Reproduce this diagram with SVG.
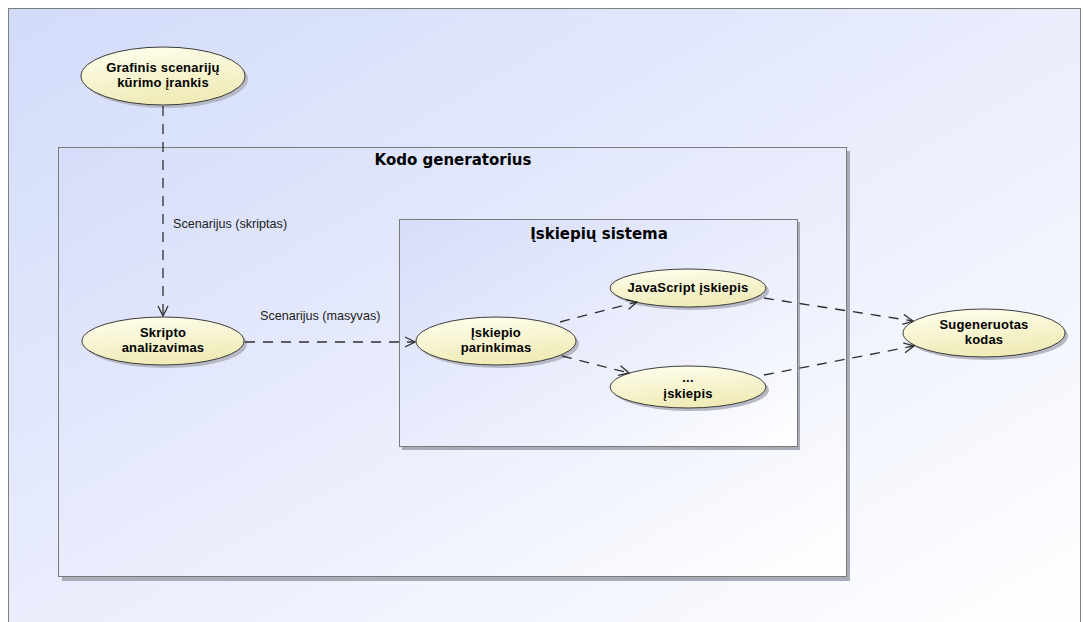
<svg xmlns="http://www.w3.org/2000/svg" width="1083" height="622" viewBox="0 0 1083 622">
  <defs>
    <linearGradient id="bgGrad" x1="0" y1="0" x2="1" y2="1">
      <stop offset="0" stop-color="#d2dbfa"/>
      <stop offset="0.6" stop-color="#eef1fd"/>
      <stop offset="1" stop-color="#ffffff"/>
    </linearGradient>
    <linearGradient id="boxGrad" x1="0" y1="0" x2="1" y2="1">
      <stop offset="0" stop-color="#d6ddfa"/>
      <stop offset="0.65" stop-color="#eef1fd"/>
      <stop offset="1" stop-color="#ffffff"/>
    </linearGradient>
    <linearGradient id="ovalGrad" x1="0" y1="0" x2="0.3" y2="1">
      <stop offset="0" stop-color="#fffff0"/>
      <stop offset="1" stop-color="#f0ebb8"/>
    </linearGradient>
    <marker id="open" viewBox="0 0 12 12" refX="11" refY="6" markerWidth="12" markerHeight="12" markerUnits="userSpaceOnUse" orient="auto">
      <path d="M1,1 L11,6 L1,11" fill="none" stroke="#303030" stroke-width="1.3"/>
    </marker>
  </defs>
  <style>
    .frame { fill: url(#bgGrad); stroke: #808080; stroke-width: 1; }
    .box { fill: url(#boxGrad); stroke: #7a7a7a; stroke-width: 1; }
    .boxShadow { fill: #a8acb8; }
    .oval { fill: url(#ovalGrad); stroke: #3c3c3c; stroke-width: 1; }
    .ovalShadow { fill: #b6b8c4; }
    .lbl { font-family: "Liberation Sans", Arial, sans-serif; font-size: 13px; letter-spacing: 0.2px; font-weight: bold; fill: #000; text-anchor: middle; }
    .title { font-family: "DejaVu Sans", "Liberation Sans", sans-serif; font-size: 15px; font-weight: bold; fill: #000; text-anchor: middle; }
    .edgeLbl { font-family: "Liberation Sans", Arial, sans-serif; font-size: 12.6px; fill: #222; }
    .dep { fill: none; stroke: #303030; stroke-width: 1.3; stroke-dasharray: 10 8; marker-end: url(#open); }
  </style>

  <!-- diagram frame -->
  <rect x="0" y="0" width="1083" height="622" fill="#ffffff"/>
  <rect class="frame" x="8.5" y="8.5" width="1072" height="620"/>

  <!-- subject: Kodo generatorius -->
  <g id="kodo-generatorius">
    <rect class="boxShadow" x="62" y="151" width="788" height="430"/>
    <rect class="box" x="58.5" y="147.5" width="788" height="429"/>
    <text class="title" x="453" y="165">Kodo generatorius</text>
  </g>

  <!-- subject: Įskiepių sistema -->
  <g id="iskiepiu-sistema">
    <rect class="boxShadow" x="402" y="222" width="398" height="228"/>
    <rect class="box" x="399.5" y="219.5" width="398" height="227"/>
    <text class="title" x="599" y="239">Įskiepių sistema</text>
  </g>

  <!-- use cases -->
  <g id="grafinis">
    <ellipse class="ovalShadow" cx="166" cy="79" rx="82" ry="29"/>
    <ellipse class="oval" cx="163" cy="76" rx="82" ry="29"/>
    <text class="lbl" x="163" y="72">Grafinis scenarijų</text>
    <text class="lbl" x="163" y="87">kūrimo įrankis</text>
  </g>

  <g id="skripto-analizavimas">
    <ellipse class="ovalShadow" cx="166" cy="344" rx="81" ry="24"/>
    <ellipse class="oval" cx="163" cy="341" rx="81" ry="24"/>
    <text class="lbl" x="163" y="337">Skripto</text>
    <text class="lbl" x="163" y="352">analizavimas</text>
  </g>

  <g id="iskiepio-parinkimas">
    <ellipse class="ovalShadow" cx="499" cy="344" rx="80" ry="24"/>
    <ellipse class="oval" cx="496" cy="341" rx="80" ry="24"/>
    <text class="lbl" x="496" y="337">Įskiepio</text>
    <text class="lbl" x="496" y="352">parinkimas</text>
  </g>

  <g id="javascript-iskiepis">
    <ellipse class="ovalShadow" cx="691" cy="291" rx="78" ry="19"/>
    <ellipse class="oval" cx="688" cy="288" rx="78" ry="19"/>
    <text class="lbl" x="688" y="292">JavaScript įskiepis</text>
  </g>

  <g id="kitas-iskiepis">
    <ellipse class="ovalShadow" cx="691" cy="390" rx="78" ry="21"/>
    <ellipse class="oval" cx="688" cy="387" rx="78" ry="21"/>
    <text class="lbl" x="688" y="382">...</text>
    <text class="lbl" x="688" y="398">įskiepis</text>
  </g>

  <g id="sugeneruotas-kodas">
    <ellipse class="ovalShadow" cx="987" cy="336" rx="81" ry="24"/>
    <ellipse class="oval" cx="984" cy="333" rx="81" ry="24"/>
    <text class="lbl" x="984" y="329">Sugeneruotas</text>
    <text class="lbl" x="984" y="344">kodas</text>
  </g>

  <!-- dependencies -->
  <g id="connectors">
    <path class="dep" d="M163,106 L163,316"/>
    <path class="dep" d="M245,342 L415,342"/>
    <path class="dep" d="M560,322 L637,302"/>
    <path class="dep" d="M562,356 L629,373"/>
    <path class="dep" d="M764,298 L913,321"/>
    <path class="dep" d="M764,375 L914,346"/>
    <text class="edgeLbl" x="173" y="228">Scenarijus (skriptas)</text>
    <text class="edgeLbl" x="260" y="320">Scenarijus (masyvas)</text>
  </g>
</svg>
